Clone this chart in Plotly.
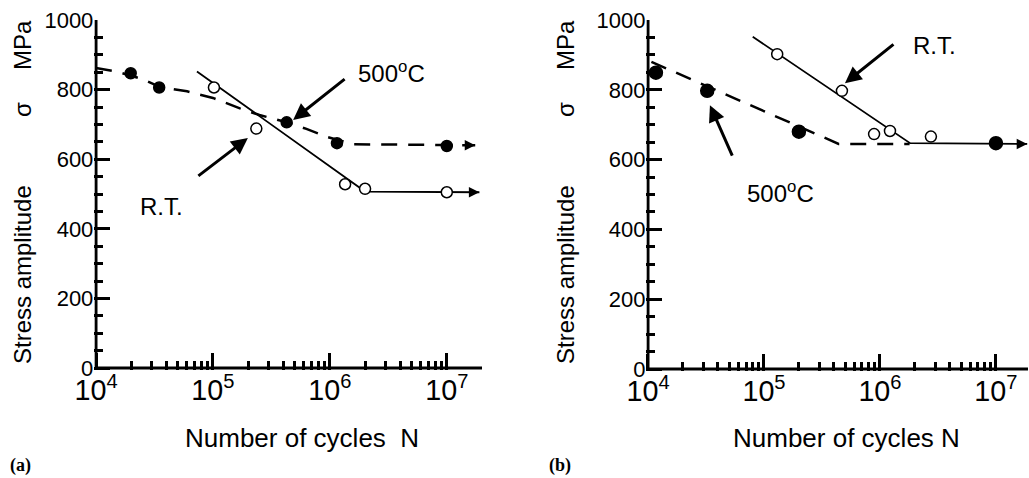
import math
import plotly.graph_objects as go

# ---------------- data: panel (a) ----------------
a_rt_N = [1.02e5, 2.35e5, 1.35e6, 2.0e6, 1.0e7]
a_rt_S = [806, 688, 528, 515, 505]
a_hot_N = [1.98e4, 3.47e4, 4.27e5, 1.15e6, 1.0e7]
a_hot_S = [847, 806, 706, 646, 638]
a_rt_fit_N = [7.3e4, 2.0e6, 1.9e7]
a_rt_fit_S = [852, 507, 505]
a_hot_fit_N = [1e4, 1.5e4, 2.5e4, 3.5e4, 6e4, 1e5, 1.7e5, 2.5e5, 4.3e5, 6.3e5, 9.5e5, 1.6e6, 1.75e7]
a_hot_fit_S = [862, 852, 830, 808, 795, 776, 746, 727, 706, 687, 664, 643, 640]

# ---------------- data: panel (b) ----------------
b_rt_N = [1.3e5, 4.7e5, 8.9e5, 1.22e6, 2.75e6]
b_rt_S = [902, 797, 673, 682, 666]
b_hot_N = [1.17e4, 3.24e4, 2.0e5, 1.0e7]
b_hot_S = [849, 797, 680, 647]
b_rt_fit_N = [8.0e4, 1.82e6, 1.86e7]
b_rt_fit_S = [952, 647, 645]
b_hot_fit_N = [1.07e4, 4.4e5, 1.8e6]
b_hot_fit_S = [880, 645, 645]

# ---------------- axes ----------------
x_first_decade = 1e4
a_x_end = 2.0e7
b_x_end = 1.89e7
y_max = 1000
y_major_step = 200
y_minor_step = 50

FONT = "Liberation Sans"
W, H = 1029, 478
PAD_DEC = 0.014   # tiny range padding so the frame lines are not clipped
PAD_Y = 6

fig = go.Figure()


def frame(xa, ya, x_end):
    # axis frame (left and bottom spines) drawn through the axes' own scales
    for xs, ys in (([x_first_decade, x_first_decade], [0, y_max]),
                   ([x_first_decade, x_end], [0, 0])):
        fig.add_trace(go.Scatter(
            x=xs, y=ys, xaxis=xa, yaxis=ya, mode="lines", cliponaxis=False,
            line=dict(color="black", width=3), showlegend=False, hoverinfo="skip"))


def fit_line(N, S, xa, ya, dash, width):
    fig.add_trace(go.Scatter(
        x=N, y=S, xaxis=xa, yaxis=ya, mode="lines",
        line=dict(color="black", width=width, dash=dash),
        showlegend=False, hoverinfo="skip"))


def points(N, S, xa, ya, filled, size):
    fig.add_trace(go.Scatter(
        x=N, y=S, xaxis=xa, yaxis=ya, mode="markers",
        marker=dict(symbol="circle", size=size,
                    color="black" if filled else "white",
                    line=dict(color="black", width=1.5)),
        showlegend=False))


frame("x", "y", a_x_end)
frame("x2", "y2", b_x_end)

DASH = "16px,11px"
fit_line(a_hot_fit_N, a_hot_fit_S, "x", "y", DASH, 2.5)
fit_line(a_rt_fit_N, a_rt_fit_S, "x", "y", "solid", 1.8)
points(a_hot_N, a_hot_S, "x", "y", True, 11)
points(a_rt_N, a_rt_S, "x", "y", False, 11)

fit_line(b_hot_fit_N, b_hot_fit_S, "x2", "y2", DASH, 2.5)
fit_line(b_rt_fit_N, b_rt_fit_S, "x2", "y2", "solid", 1.8)
points(b_hot_N, b_hot_S, "x2", "y2", True, 13)
points(b_rt_N, b_rt_S, "x2", "y2", False, 11)


def xaxis(px0, px1, rng_end, anchor):
    lo = math.log10(x_first_decade) - PAD_DEC
    hi = math.log10(rng_end)
    dec_px = (px1 - px0) / (hi - math.log10(x_first_decade))
    return dict(
        type="log", domain=[(px0 - PAD_DEC * dec_px) / W, px1 / W], range=[lo, hi],
        anchor=anchor, showline=False,
        dtick=1, exponentformat="power", showexponent="all",
        ticks="inside", ticklen=17, tickwidth=2.5, tickcolor="black",
        minor=dict(ticks="inside", ticklen=9, tickwidth=2.5, tickcolor="black"),
        tickfont=dict(size=23),
    )


def yaxis(py0, py1, anchor):
    ppu = (py0 - py1) / y_max
    return dict(
        domain=[1 - (py0 + PAD_Y * ppu) / H, 1 - py1 / H], range=[-PAD_Y, y_max],
        anchor=anchor, showline=False,
        tick0=0, dtick=y_major_step,
        ticks="inside", ticklen=16, tickwidth=2.5, tickcolor="black",
        minor=dict(dtick=y_minor_step, ticks="inside", ticklen=9, tickwidth=2.5,
                   tickcolor="black"),
    )


fig.update_layout(
    template="none",
    width=W, height=H, autosize=False,
    font=dict(family=FONT, size=22, color="black"),
    margin=dict(l=0, r=0, t=0, b=0, autoexpand=False),
    paper_bgcolor="white", plot_bgcolor="white",
    xaxis=xaxis(96, 482, a_x_end, "y"),
    yaxis=yaxis(368, 20, "x"),
    xaxis2=xaxis(648, 1028, b_x_end, "y2"),
    yaxis2=yaxis(369, 20, "x2"),
)
fig.update_xaxes(showgrid=False, zeroline=False)
fig.update_yaxes(showgrid=False, zeroline=False)

ann = []


def arrow(xa, ya, N, S, ax, ay, width=3, size=1.1):
    ann.append(dict(xref=xa, yref=ya, x=math.log10(N), y=S, ax=ax, ay=ay,
                    text="", showarrow=True, arrowhead=2, arrowsize=size,
                    arrowwidth=width, arrowcolor="black", standoff=0))


def label(xa, ya, N, S, text, size=24):
    ann.append(dict(xref=xa, yref=ya, x=math.log10(N), y=S, text=text,
                    showarrow=False, xanchor="center", yanchor="middle",
                    font=dict(family=FONT, size=size, color="black")))


# arrowheads at the ends of the fitted lines
arrow("x", "y", a_hot_fit_N[-1], a_hot_fit_S[-1], -12, 0, 1.5, 1.4)
arrow("x", "y", a_rt_fit_N[-1], a_rt_fit_S[-1], -12, 0, 1.5, 1.4)
arrow("x2", "y2", b_rt_fit_N[-1], b_rt_fit_S[-1], -12, 0, 1.5, 1.4)

arrow("x", "y", 4.85e5, 713, 53, -42)
arrow("x", "y", 1.99e5, 661, -51, 39)
label("x", "y", 3.39e6, 851, "500<sup>o</sup>C")
label("x", "y", 3.66e4, 463, "R.T.")

arrow("x2", "y2", 4.99e5, 819, 50, -40)
arrow("x2", "y2", 3.42e4, 756, 23, 52)
label("x2", "y2", 2.98e6, 928, "R.T.")
label("x2", "y2", 1.4e5, 507, "500<sup>o</sup>C")


def ptxt(px, py, text, size, angle=0, family=FONT, bold=False):
    ann.append(dict(xref="paper", yref="paper", x=px / W, y=1 - py / H,
                    text=("<b>%s</b>" % text if bold else text),
                    showarrow=False, xanchor="center", yanchor="middle", textangle=angle,
                    font=dict(family=family, size=size, color="black")))


for cx in (22, 565):
    ptxt(cx, 275, "Stress amplitude", 24, -90)
    ptxt(cx, 110, "σ", 24, -90)
    ptxt(cx, 45, "MPa", 24, -90)
ptxt(302, 438, "Number of cycles\u00a0\u00a0N", 26)
ptxt(846, 438, "Number of cycles N", 26)
ptxt(20, 465, "(a)", 18, family="Liberation Serif", bold=True)
ptxt(560, 465, "(b)", 18, family="Liberation Serif", bold=True)

fig.update_layout(annotations=ann)
fig.write_html("out.html", config={"displayModeBar": False},
               post_script="document.body.style.margin='0px';")
